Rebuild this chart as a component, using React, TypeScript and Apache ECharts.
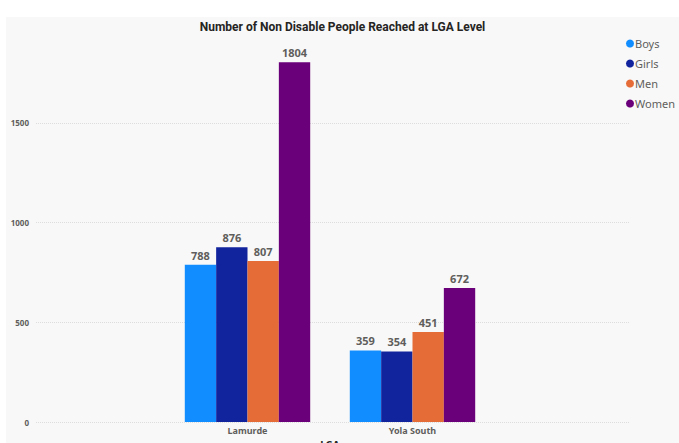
import React, { useEffect, useRef } from "react";
import * as echarts from "echarts";

const categories = ["Lamurde", "Yola South"];
const boys = [788, 359];
const girls = [876, 354];
const men = [807, 451];
const women = [1804, 672];
const seriesNames = ["Boys", "Girls", "Men", "Women"];
const colors = ["#118DFF", "#12239E", "#E66C37", "#6B007B"];

export default function App() {
  const ref = useRef<HTMLDivElement>(null);
  useEffect(() => {
    if (!ref.current) return;
    const chart = echarts.init(ref.current, null, { renderer: "svg" });
    const font = "'Noto Sans', 'Open Sans', sans-serif";
    const values = [boys, girls, men, women];
    chart.setOption({
      animation: false,
      backgroundColor: "#f8f8f8",
      textStyle: { fontFamily: font },
      title: {
        text: "Number of Non Disable People Reached at LGA Level",
        left: "center",
        top: -1,
        textStyle: { fontSize: 12, fontWeight: "bold", color: "#252423", fontFamily: "Roboto, sans-serif" },
      },
      legend: {
        orient: "vertical",
        left: 620,
        top: 21,
        padding: 0,
        icon: "circle",
        itemWidth: 8,
        itemHeight: 8,
        itemGap: 9,
        textStyle: { fontSize: 11, color: "#605E5C", padding: [0, 0, 0, -4] },
        data: seriesNames,
      },
      grid: [
        { left: 159, right: 184, top: 26, bottom: 21, outerBoundsMode: "none" },
        { left: 30, right: 49, top: 26, bottom: 21, outerBoundsMode: "none" },
      ],
      xAxis: [
        {
          type: "category",
          gridIndex: 0,
          data: categories,
          axisLine: { show: false },
          axisTick: { show: false },
          axisLabel: { fontSize: 9, fontWeight: "bold", color: "#605E5C", margin: 4 },
          name: "LGA",
          nameLocation: "middle",
          nameGap: 16,
          nameTextStyle: { fontSize: 10, fontWeight: "bold", color: "#252423" },
        },
        { type: "value", gridIndex: 1, min: 0, max: 1, show: false },
      ],
      yAxis: [
        { type: "value", gridIndex: 0, min: 0, max: 1900, interval: 500, show: false },
        {
          type: "value",
          gridIndex: 1,
          min: 0,
          max: 1900,
          interval: 500,
          axisLine: { show: false },
          axisTick: { show: false },
          axisLabel: {
            fontSize: 8,
            fontWeight: "bold",
            color: "#605E5C",
            margin: 7,
            showMaxLabel: false,
            formatter: (v: number) => String(v),
          },
          splitLine: { show: true, showMaxLine: false, lineStyle: { color: "#dddddd", type: "dotted", width: 1 } },
        },
      ],
      series: seriesNames.map((name, i) => ({
        name,
        type: "bar",
        xAxisIndex: 0,
        yAxisIndex: 0,
        data: values[i],
        barGap: "0%",
        barCategoryGap: "24%",
        itemStyle: { color: colors[i] },
        label: {
          show: true,
          position: "top",
          distance: 4,
          fontSize: 11,
          fontWeight: "bold",
          color: "#605E5C",
        },
      })),
    });
    return () => chart.dispose();
  }, []);
  return (
    <div style={{ position: "absolute", left: 0, top: 0, width: 679, height: 443, background: "#ffffff" }}>
      <div ref={ref} style={{ position: "absolute", left: 6, top: 17, width: 673, height: 426 }} />
    </div>
  );
}
